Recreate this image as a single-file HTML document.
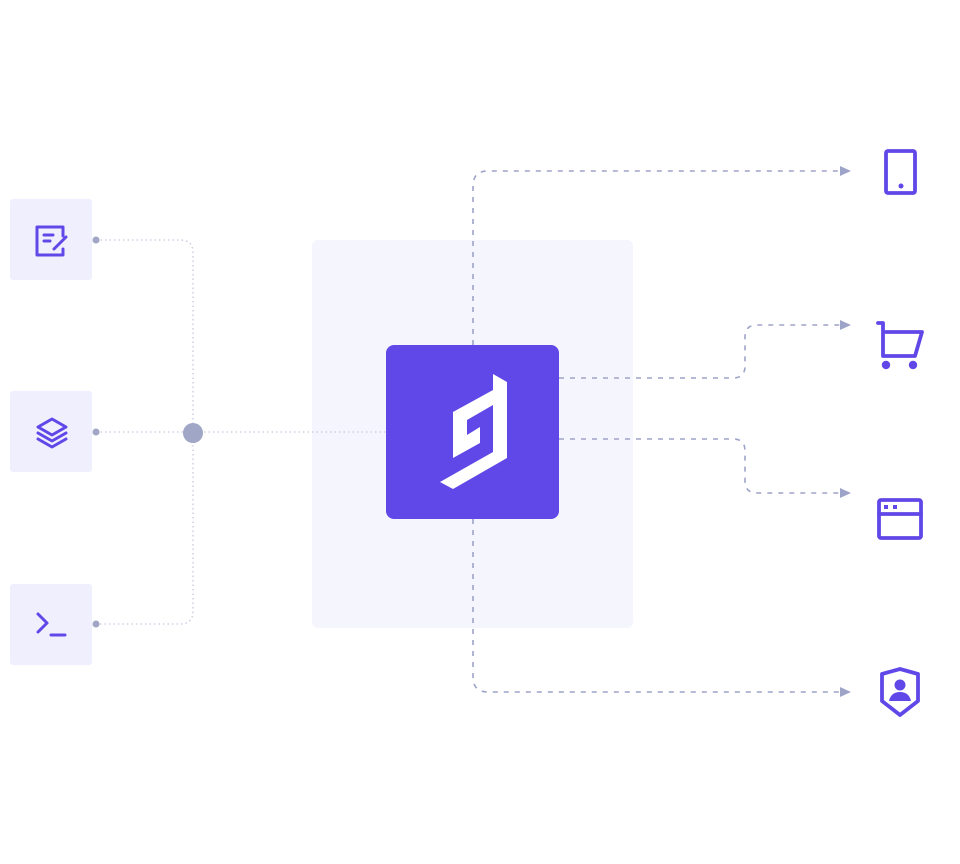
<!DOCTYPE html>
<html><head><meta charset="utf-8"><style>
html,body{margin:0;padding:0;background:#fff;width:960px;height:864px;overflow:hidden}
</style></head><body>
<svg width="960" height="864" viewBox="0 0 960 864" xmlns="http://www.w3.org/2000/svg">
<rect x="312" y="240" width="321" height="388" rx="6" fill="#f5f5fd"/>
<rect x="10" y="199" width="82" height="81" rx="3" fill="#f0effe"/>
<rect x="10" y="391" width="82" height="81" rx="3" fill="#f0effe"/>
<rect x="10" y="584" width="82" height="81" rx="3" fill="#f0effe"/>
<g fill="none" stroke="#c5c8e0" stroke-width="1.3" stroke-dasharray="1.5 3">
<path d="M96 240 H180 Q193 240 193 253 V611 Q193 624 180 624 H96"/>
<path d="M96 432 H386"/>
</g>
<g fill="#a0a6c6"><circle cx="96" cy="240" r="3.5"/><circle cx="96" cy="432" r="3.5"/><circle cx="96" cy="624" r="3.5"/><circle cx="193" cy="433" r="10"/></g>
<g fill="none" stroke="#9ea3c8" stroke-width="1.6" stroke-dasharray="5 6">
<path d="M473 345 V186 Q473 171 488 171 H842"/>
<path d="M473 519 V677 Q473 692 488 692 H842"/>
<path d="M559 378 H733 Q745 378 745 366 V337 Q745 325 757 325 H842"/>
<path d="M559 439 H733 Q745 439 745 451 V481 Q745 493 757 493 H842"/>
</g>
<g fill="#9ea3c8">
<path d="M840 166 L851 171 L840 176Z"/><path d="M840 320 L851 325 L840 330Z"/>
<path d="M840 488 L851 493 L840 498Z"/><path d="M840 687 L851 692 L840 697Z"/>
</g>
<rect x="386" y="345" width="173" height="174" rx="8" fill="#6048e8"/>
<path d="M493 374 L507 382 L507 458 L453 489 L440 482 L493 452 L493 405 L467 420 L467 435 L480 427 L480 443 L453 458 L453 412 L493 390 Z" fill="#fff"/>
<g fill="none" stroke="#6048e8" stroke-width="3" stroke-linejoin="round" stroke-linecap="round">
<path d="M63 236 V227 H37 V255 H63 V249"/>
<path d="M44 235 H53 M44 241 H50"/>
<path d="M54 249 L66 237"/>
<path d="M52 419 L38 427 L52 435 L66 427 Z"/>
<path d="M38 433 L52 441 L66 433 M38 439 L52 447 L66 439"/>
<path d="M38 614 L47 623 L38 632"/>
<path d="M51 635 H65"/>
</g>
<g fill="none" stroke="#6048e8" stroke-width="3.8" stroke-linejoin="round" stroke-linecap="round">
<rect x="886" y="151" width="29" height="42" rx="2"/>
<path d="M878 323 H883 V356 H915 L922 332 H886"/>
<rect x="879" y="500" width="42" height="38" rx="2"/>
<path d="M879 514 H921"/>
<path d="M900 669 L918 674 V701 L900 715 L882 701 V674 Z"/>
</g>
<g fill="#6048e8">
<circle cx="901" cy="186" r="2.5"/>
<circle cx="886" cy="365" r="4.2"/><circle cx="913" cy="365" r="4.2"/>
<rect x="884" y="505" width="4" height="4"/><rect x="893" y="505" width="4" height="4"/>
<circle cx="900" cy="685" r="5.5"/>
<path d="M889 701 Q891 692 900 692 Q909 692 911 701 Z"/>
</g>
</svg>
</body></html>
